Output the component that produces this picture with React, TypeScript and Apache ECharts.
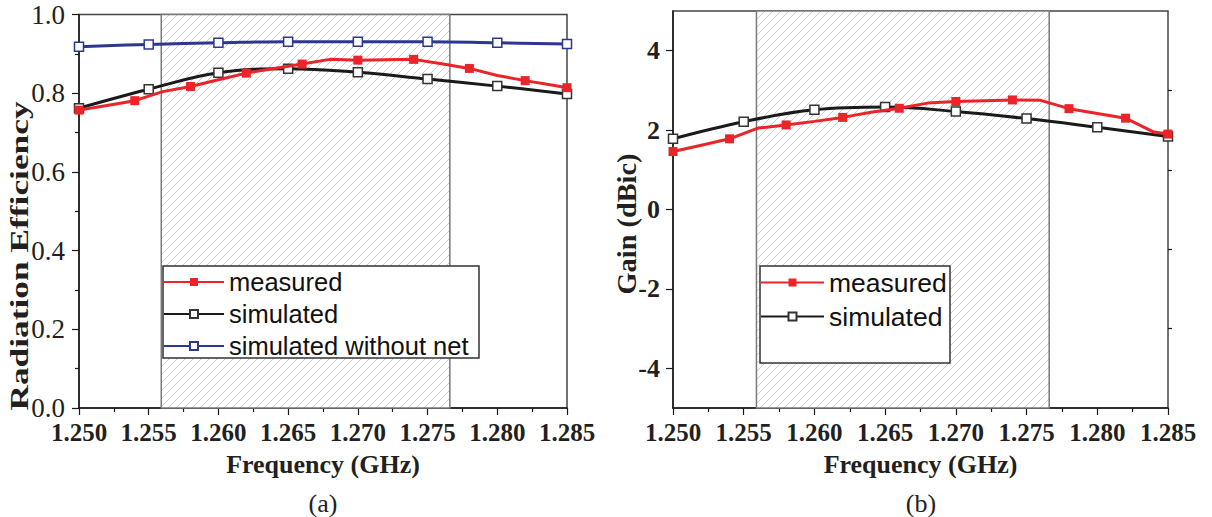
import React, { useEffect, useRef } from 'react';
import * as echarts from 'echarts';

// ---------- data ----------
const simFreq = [1.25, 1.255, 1.26, 1.265, 1.27, 1.275, 1.28, 1.285];
const measFreq = [
  1.25, 1.252, 1.254, 1.256, 1.258, 1.26, 1.262, 1.264, 1.266, 1.268,
  1.27, 1.272, 1.274, 1.276, 1.278, 1.28, 1.282, 1.284, 1.285,
];
const effMeasured = [
  0.757, 0.769, 0.781, 0.804, 0.817, 0.834, 0.851, 0.863, 0.874, 0.886,
  0.884, 0.885, 0.886, 0.875, 0.863, 0.845, 0.832, 0.82, 0.814,
];
const effSimulated = [0.762, 0.81, 0.852, 0.862, 0.853, 0.836, 0.818, 0.798];
const effNoNet = [0.918, 0.924, 0.928, 0.931, 0.931, 0.931, 0.928, 0.925];
const gainMeasured = [
  1.46, 1.62, 1.78, 2.05, 2.13, 2.22, 2.32, 2.45, 2.55, 2.68,
  2.72, 2.74, 2.76, 2.75, 2.54, 2.42, 2.3, 1.95, 1.9,
];
const gainSimulated = [1.78, 2.21, 2.51, 2.58, 2.47, 2.29, 2.07, 1.84];
const bandEdges = [1.2559, 1.2766];
const gainMajorTicks = [-4, -2, 0, 2, 4];
const gainMinorTicks = [-3, -1, 1, 3];

// ---------- styles ----------
const SERIF = 'Liberation Serif';
const SANS = 'Liberation Sans';
const TXT = '#231f20';
const AX = '#1a1a1a';
const RED = '#ec2328';
const BLK = '#1a1a1a';
const BLUE = '#2e3790';

function hatchImage(): string {
  const c = document.createElement('canvas');
  c.width = 8;
  c.height = 8;
  const ctx = c.getContext('2d')!;
  ctx.fillStyle = '#ffffff';
  ctx.fillRect(0, 0, 8, 8);
  ctx.strokeStyle = '#cccccc';
  ctx.lineWidth = 1;
  ctx.beginPath();
  ctx.moveTo(-2, 10);
  ctx.lineTo(10, -2);
  ctx.moveTo(-2, 2);
  ctx.lineTo(2, -2);
  ctx.moveTo(6, 10);
  ctx.lineTo(10, 6);
  ctx.stroke();
  return c.toDataURL();
}

export default function App() {
  const ref = useRef<HTMLDivElement>(null);
  useEffect(() => {
    if (!ref.current) return;
    const chart = echarts.init(ref.current, null, { renderer: 'svg' });
    const pattern: any = { image: hatchImage(), repeat: 'repeat', imageWidth: 8, imageHeight: 8 };

    const bandArea = {
      silent: true,
      label: { show: false },
      itemStyle: { color: pattern, borderColor: '#7a7a7a', borderWidth: 1.5, opacity: 1 },
      data: [[{ xAxis: bandEdges[0] }, { xAxis: bandEdges[1] }]],
    };

    const xAxisFor = (gridIndex: number) => ({
      type: 'value',
      gridIndex,
      min: 1.25,
      max: 1.285,
      interval: 0.005,
      name: 'Frequency (GHz)',
      nameLocation: 'middle',
      nameGap: 43,
      nameTextStyle: { fontFamily: SERIF, fontWeight: 'bold', fontSize: 26, color: TXT },
      axisLine: { show: true, onZero: false, lineStyle: { color: AX, width: 1.5 } },
      axisTick: { show: true, inside: false, length: 7, lineStyle: { color: AX, width: 1.2 } },
      minorTick: { show: true, splitNumber: 2, length: 4, lineStyle: { color: AX, width: 1.2 } },
      splitLine: { show: false },
      minorSplitLine: { show: false },
      axisLabel: {
        formatter: (v: number) => v.toFixed(3),
        margin: 12,
        fontFamily: SERIF,
        fontWeight: 'bold',
        fontSize: 25,
        color: TXT,
      },
    });

    const measuredSeries = (xi: number, yi: number, vals: number[]) => ({
      type: 'line',
      name: 'measured',
      xAxisIndex: xi,
      yAxisIndex: yi,
      data: measFreq.map((f, i) => ({ value: [f, vals[i]], symbol: i % 2 === 0 ? 'rect' : 'none' })),
      symbol: 'rect',
      symbolSize: 9,
      showAllSymbol: true,
      lineStyle: { color: RED, width: 3 },
      itemStyle: { color: RED },
      z: 4,
      markArea: bandArea,
    });

    const simSeries = (xi: number, yi: number, vals: number[], name: string, color: string, z: number) => ({
      type: 'line',
      name,
      xAxisIndex: xi,
      yAxisIndex: yi,
      data: simFreq.map((f, i) => [f, vals[i]]),
      smooth: 0.4,
      symbol: 'rect',
      symbolSize: 9,
      showAllSymbol: true,
      lineStyle: { color, width: 3 },
      itemStyle: { color: '#ffffff', borderColor: color === BLK ? '#333333' : color, borderWidth: 1.5 },
      z,
    });

    const option: any = {
      animation: false,
      backgroundColor: '#ffffff',
      grid: [
        { left: 79, top: 14.5, width: 488, height: 393.5, show: true, borderColor: '#444', borderWidth: 1.5, backgroundColor: 'transparent', outerBoundsMode: 'none' },
        { left: 673, top: 11, width: 495, height: 397, show: true, borderColor: '#444', borderWidth: 1.5, backgroundColor: 'transparent', outerBoundsMode: 'none' },
      ],
      xAxis: [xAxisFor(0), xAxisFor(1)],
      yAxis: [
        {
          type: 'value',
          gridIndex: 0,
          min: 0,
          max: 1,
          interval: 0.2,
          axisLine: { show: true, onZero: false, lineStyle: { color: AX, width: 1.5 } },
          axisTick: { show: true, inside: false, length: 7, lineStyle: { color: AX, width: 1.2 } },
          minorTick: { show: true, splitNumber: 2, length: 4, lineStyle: { color: AX, width: 1.2 } },
          splitLine: { show: false },
          axisLabel: { formatter: (v: number) => v.toFixed(1), margin: 14, fontFamily: SERIF, fontSize: 27, color: TXT },
        },
        {
          type: 'value',
          gridIndex: 1,
          min: -5,
          max: 5,
          axisLine: { show: true, onZero: false, lineStyle: { color: AX, width: 1.5 } },
          axisTick: { show: true, inside: false, length: 7, customValues: gainMajorTicks, lineStyle: { color: AX, width: 1.2 } },
          splitLine: { show: false },
          axisLabel: { customValues: gainMajorTicks, margin: 13, fontFamily: SERIF, fontWeight: 'bold', fontSize: 26, color: TXT },
        },
        {
          type: 'value',
          gridIndex: 1,
          min: -5,
          max: 5,
          axisLine: { show: false, onZero: false },
          axisTick: { show: true, inside: false, length: 4, customValues: gainMinorTicks, lineStyle: { color: AX, width: 1.2 } },
          splitLine: { show: false },
          axisLabel: { show: false },
        },
      ],
      legend: [
        {
          data: ['measured', 'simulated', 'simulated without net'],
          orient: 'vertical',
          left: 163,
          top: 269,
          padding: 0,
          itemWidth: 60,
          itemHeight: 10,
          itemGap: 6,
          z: 5,
          selectedMode: false,
          textStyle: { fontFamily: SANS, fontSize: 25.5, color: '#111', lineHeight: 25 },
        },
        {
          data: ['measured', 'simulated'],
          orient: 'vertical',
          left: 760,
          top: 269,
          padding: 0,
          itemWidth: 63,
          itemHeight: 10,
          itemGap: 7,
          z: 5,
          selectedMode: false,
          textStyle: { fontFamily: SANS, fontSize: 26.5, color: '#111', lineHeight: 25 },
        },
      ],
      graphic: [
        { type: 'rect', z: 3, shape: { x: 163, y: 266, width: 316, height: 92 }, style: { fill: '#ffffff', stroke: '#333', lineWidth: 1.5 } },
        { type: 'rect', z: 3, shape: { x: 760, y: 266, width: 190, height: 97 }, style: { fill: '#ffffff', stroke: '#333', lineWidth: 1.5 } },
        {
          type: 'text', z: 3, x: 19, y: 256, rotation: Math.PI / 2, scaleX: 1.36,
          style: { text: 'Radiation Efficiency', fontFamily: SERIF, fontWeight: 'bold', fontSize: 26, fill: TXT, align: 'center', verticalAlign: 'middle' },
        },
        {
          type: 'text', z: 3, x: 627, y: 224, rotation: Math.PI / 2, scaleX: 1.05,
          style: { text: 'Gain (dBic)', fontFamily: SERIF, fontWeight: 'bold', fontSize: 27, fill: TXT, align: 'center', verticalAlign: 'middle' },
        },
        { type: 'text', z: 3, x: 323, y: 503, style: { text: '(a)', fontFamily: SERIF, fontSize: 26, fill: TXT, align: 'center', verticalAlign: 'middle' } },
        { type: 'text', z: 3, x: 921, y: 503, style: { text: '(b)', fontFamily: SERIF, fontSize: 26, fill: TXT, align: 'center', verticalAlign: 'middle' } },
      ],
      series: [
        measuredSeries(0, 0, effMeasured),
        simSeries(0, 0, effSimulated, 'simulated', BLK, 3),
        simSeries(0, 0, effNoNet, 'simulated without net', BLUE, 3),
        measuredSeries(1, 1, gainMeasured),
        simSeries(1, 1, gainSimulated, 'simulated', BLK, 3),
      ],
    };
    chart.setOption(option);
    return () => chart.dispose();
  }, []);
  return <div ref={ref} style={{ position: 'absolute', left: 0, top: 0, width: 1212, height: 517 }} />;
}
